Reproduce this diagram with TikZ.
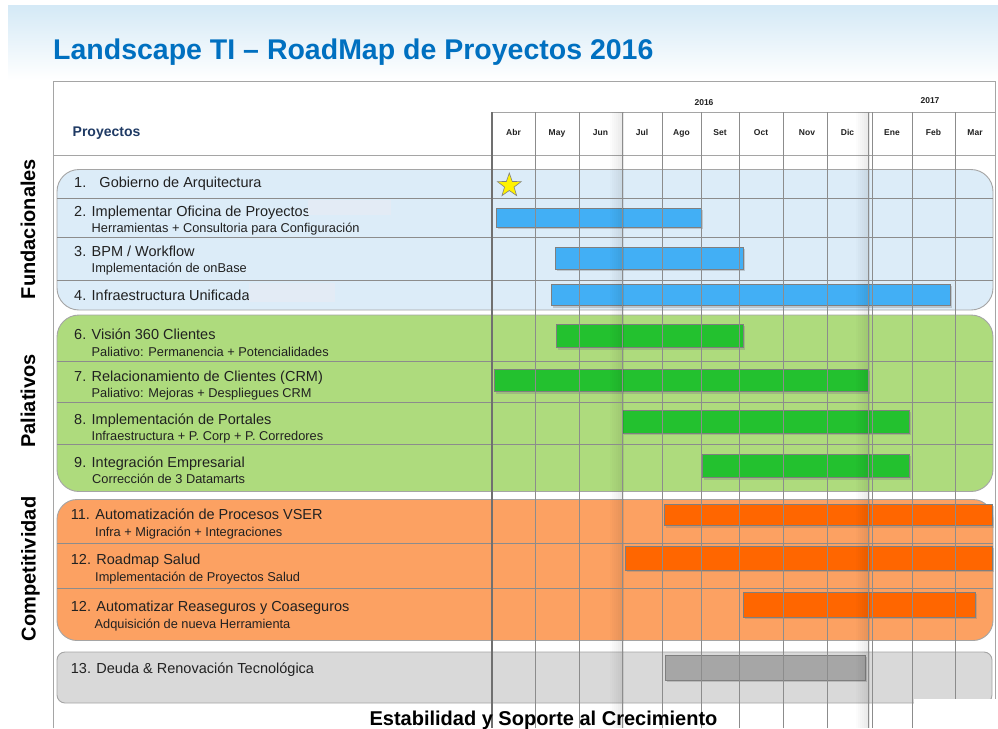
\documentclass[tikz,border=0pt]{standalone}
\usepackage{fontspec}
\setmainfont{Liberation Sans}
\usetikzlibrary{shapes.geometric,shadows}

\definecolor{titleblue}{RGB}{0,112,192}
\definecolor{navy}{RGB}{31,58,100}
\definecolor{txt}{RGB}{33,33,33}
\definecolor{gridgray}{RGB}{140,140,140}
\definecolor{framegray}{RGB}{165,165,165}
\definecolor{barline}{RGB}{127,127,127}
\definecolor{bandblue}{RGB}{220,236,248}
\definecolor{bandgreen}{RGB}{174,219,125}
\definecolor{bandorange}{RGB}{252,161,98}
\definecolor{bandgray}{RGB}{217,217,217}
\definecolor{barblue}{RGB}{66,175,245}
\definecolor{bargreen}{RGB}{35,193,47}
\definecolor{barorange}{RGB}{255,102,0}
\definecolor{bargray}{RGB}{166,166,166}
\definecolor{cover}{RGB}{227,235,245}
\definecolor{skytop}{RGB}{212,233,246}

\begin{document}
\begin{tikzpicture}[x=1pt,y=-1pt,
  band/.style={draw=framegray,line width=0.9pt},
  bar/.style={draw=barline,line width=0.8pt,
    drop shadow={shadow xshift=1.5pt,shadow yshift=-2pt,opacity=0.35}},
  gridline/.style={draw=gridgray,line width=0.9pt},
  rowmain/.style={anchor=base west,inner sep=0pt,text=txt,
    font=\fontsize{14.5}{17}\selectfont},
  rowsub/.style={anchor=base west,inner sep=0pt,text=txt,
    font=\fontsize{12.8}{15}\selectfont},
  month/.style={anchor=base,inner sep=0pt,text=txt,
    font=\bfseries\fontsize{8.5}{10}\selectfont},
  sidelabel/.style={anchor=base,inner sep=0pt,rotate=90,text=black,
    font=\bfseries\fontsize{20}{24}\selectfont}]

\useasboundingbox (0,0) rectangle (998,728);
\fill[white] (0,0) rectangle (998,728);
\shade[top color=skytop,bottom color=white] (8,5) rectangle (998,80);

% title
\node[anchor=base west,inner sep=0pt,text=titleblue,
  font=\bfseries\fontsize{28.5}{34}\selectfont] (title) at (53,59.5)
  {Landscape TI -- RoadMap de Proyectos 2016};

% outer frame and header rules
\draw[framegray,line width=1pt] (53,728) -- (53,81) -- (995,81) -- (995,699);
\draw[framegray,line width=1pt] (53,155.5) -- (995,155.5);
\draw[framegray,line width=1pt] (492,112) -- (995,112);

% category bands
\path[band,fill=bandblue,rounded corners=22pt] (57,169.5) rectangle (993,310);
\path[band,fill=bandgreen,rounded corners=22pt] (57,315) rectangle (993,491.5);
\path[band,fill=bandorange,rounded corners=20pt] (57,499.5) rectangle (993,640.5);
\path[band,fill=bandgray,rounded corners=8pt] (57,652) rectangle (992,703);

% project names
\node[rowmain] (r1) at (74,187) {1.\hspace{13.2pt}Gobierno de Arquitectura};
\node[rowmain] (r2) at (74,216) {2. Implementar Oficina de Proyectos};
\node[rowsub] (r2s) at (91.5,232) {Herramientas + Consultoria para Configuración};
\node[rowmain] (r3) at (74,256) {3. BPM / Workflow};
\node[rowsub] (r3s) at (91.5,272) {Implementación de onBase};
\node[rowmain] (r4) at (74,300) {4. Infraestructura Unificada};
\node[rowmain] (r6) at (74,339) {6. Visión 360 Clientes};
\node[rowsub] (r6s) at (91.5,356) {Paliativo: Permanencia + Potencialidades};
\node[rowmain] (r7) at (74,381) {7. Relacionamiento de Clientes (CRM)};
\node[rowsub] (r7s) at (91.5,397) {Paliativo: Mejoras + Despliegues CRM};
\node[rowmain] (r8) at (74,424) {8. Implementación de Portales};
\node[rowsub] (r8s) at (91.5,440) {Infraestructura + P. Corp + P. Corredores};
\node[rowmain] (r9) at (74,467) {9. Integración Empresarial};
\node[rowsub] (r9s) at (92,483) {Corrección de 3 Datamarts};
\node[rowmain] (r11) at (70.7,519) {11. Automatización de Procesos VSER};
\node[rowsub] (r11s) at (95,536) {Infra + Migración + Integraciones};
\node[rowmain] (r12) at (70.7,564) {12. Roadmap Salud};
\node[rowsub] (r12s) at (95,581) {Implementación de Proyectos Salud};
\node[rowmain] (r12b) at (70.7,611) {12. Automatizar Reaseguros y Coaseguros};
\node[rowsub] (r12bs) at (94.5,628) {Adquisición de nueva Herramienta};
\node[rowmain] (r13) at (70.7,673) {13. Deuda \& Renovación Tecnológica};

% masked fragments
\fill[cover] (308,200) rectangle (391,215);
\fill[cover] (249,283) rectangle (335,302);

% timeline bars
\path[bar,fill=barblue] (496,208) rectangle (701.5,227);
\path[bar,fill=barblue] (555.7,247.3) rectangle (743,269.3);
\path[bar,fill=barblue] (551,284.3) rectangle (950,305.7);
\path[bar,fill=bargreen] (556,324.3) rectangle (743,347.7);
\path[bar,fill=bargreen] (494,369) rectangle (868,391.7);
\path[bar,fill=bargreen] (622.3,410) rectangle (909,433.3);
\path[bar,fill=bargreen] (702.3,454.3) rectangle (909,477.7);
\path[bar,fill=barorange] (664,504) rectangle (992,525.7);
\path[bar,fill=barorange] (625,546) rectangle (992,570);
\path[bar,fill=barorange] (743.3,592.3) rectangle (975.7,617.3);
\path[bar,fill=bargray] (665.7,655) rectangle (865,680);

% soft shading beside the Jul and Ene column rules
\foreach \xs in {622,868.3}{
  \foreach \i in {1,...,7}{
    \pgfmathsetmacro\op{0.013*\i}
    \fill[black,opacity=\op] (\xs-14+2*\i,112) rectangle (\xs-12+2*\i,728);
  }
}

% row dividers
\foreach \yy in {198,237,280,361,402,444,543.5,588.5}
  \draw[gridline] (57,\yy) -- (993,\yy);

% month columns
\draw[gridline,line width=1.2pt,draw=gridgray!80!black] (492,112) -- (492,728);
\foreach \xx in {535,579,622,662,701,739,783,827,868.3,872.7,912,955}
  \draw[gridline] (\xx,112) -- (\xx,728);

\fill[white] (913.5,699) rectangle (998,728);

% header labels
\node[anchor=base west,inner sep=0pt,text=navy,
  font=\bfseries\fontsize{14}{17}\selectfont] (proj) at (72.5,136) {Proyectos};
\node[month] (y16) at (704,105) {2016};
\node[month] (y17) at (930,103) {2017};
\foreach \m/\xx [count=\i] in {Abr/513.5,May/557,Jun/600.5,Jul/642,Ago/681.5,
    Set/720,Oct/761,Nov/807,Dic/847.5,Ene/892,Feb/933.5,Mar/975}
  \node[month] (m\i) at (\xx,135) {\m};

% category labels
\node[sidelabel] (fund) at (35,229) {Fundacionales};
\node[sidelabel] (pal) at (35,401) {Paliativos};
\node[sidelabel] (comp) at (35.5,569) {Competitividad};

% milestone
\node[star,star points=5,star point ratio=2.5,minimum size=25pt,inner sep=0pt,
  fill=yellow,draw=gray,line width=0.6pt] (hito) at (509.3,185.5) {};

% base layer caption
\node[anchor=base,inner sep=0pt,text=black,
  font=\bfseries\fontsize{20}{24}\selectfont] (estab) at (543.5,725)
  {Estabilidad y Soporte al Crecimiento};
\end{tikzpicture}
\end{document}
